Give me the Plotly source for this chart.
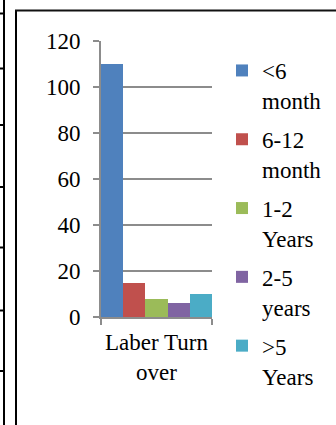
import plotly.graph_objects as go

# Labour turnover by length of service
category = ["Laber Turn<br>over"]
series_names = ["&lt;6<br>month", "6-12<br>month", "1-2<br>Years", "2-5<br>years", "&gt;5<br>Years"]
series_values = [110, 15, 8, 6, 10]
series_colors = ["#4F81BD", "#C0504D", "#9BBB59", "#8064A2", "#4BACC6"]
y_ticks = [0, 20, 40, 60, 80, 100, 120]

W, H = 336, 425
L, R, T, B = 101, 124, 41, 108
PW, PH = W - L - R, H - T - B


def px_x(x):
    return (x - L) / PW


def px_y(y):
    return (H - B - y) / PH


FONT = "Liberation Serif"
FS = 23
GRAY = "#8C8C8C"

fig = go.Figure()
for i, (name, val, col) in enumerate(zip(series_names, series_values, series_colors)):
    fig.add_trace(go.Bar(
        x=category, y=[val], name=name, marker=dict(color=col, line=dict(width=0)),
        legendgroup=f"g{i}",
    ))

shapes = []
# outer frame of the chart
shapes.append(dict(type="line", xref="paper", yref="paper",
                   x0=px_x(16), x1=px_x(16), y0=px_y(10), y1=px_y(430),
                   line=dict(color="#000000", width=2)))
shapes.append(dict(type="line", xref="paper", yref="paper",
                   x0=px_x(15), x1=px_x(340), y0=px_y(10.5), y1=px_y(10.5),
                   line=dict(color="#111111", width=2)))
# neighbouring table rules on the left
shapes.append(dict(type="line", xref="paper", yref="paper",
                   x0=px_x(4), x1=px_x(4), y0=px_y(-5), y1=px_y(430),
                   line=dict(color="#000000", width=2)))
for yy in [13.5, 68.5, 125, 187, 247.5, 310.5, 371]:
    shapes.append(dict(type="line", xref="paper", yref="paper",
                       x0=px_x(-2), x1=px_x(4), y0=px_y(yy), y1=px_y(yy),
                       line=dict(color="#000000", width=2)))

fig.update_layout(
    width=W, height=H,
    margin=dict(l=L, r=R, t=T, b=B, pad=0, autoexpand=False),
    paper_bgcolor="white", plot_bgcolor="white",
    barmode="group", bargap=0, bargroupgap=0,
    font=dict(family=FONT, size=FS, color="#000000"),
    showlegend=True,
    legend=dict(
        x=px_x(222), xanchor="left",
        yref="container", y=1 - 49 / H, yanchor="top",
        maxheight=1.0,
        font=dict(family=FONT, size=FS, color="#000000"),
        valign="top", tracegroupgap=6, bgcolor="rgba(0,0,0,0)",
        itemclick=False, itemdoubleclick=False,
    ),
    xaxis=dict(
        type="category", range=[-0.5, 0.5], automargin=False, tickangle=0,
        showline=True, linecolor=GRAY, linewidth=2,
        ticks="outside", tickson="boundaries", ticklen=6, tickcolor=GRAY, tickwidth=2,
        showgrid=False, tickfont=dict(family=FONT, size=FS), ticklabelstandoff=3,
    ),
    yaxis=dict(
        range=[0, 120], tickvals=y_ticks, ticktext=[str(v) for v in y_ticks],
        automargin=False,
        showline=True, linecolor=GRAY, linewidth=2,
        ticks="outside", ticklen=6, tickcolor=GRAY, tickwidth=2,
        showgrid=True, gridcolor=GRAY, gridwidth=2, zeroline=False,
        tickfont=dict(family=FONT, size=FS), ticklabelstandoff=8,
    ),
    shapes=shapes,
)

fig.write_html("out.html")
